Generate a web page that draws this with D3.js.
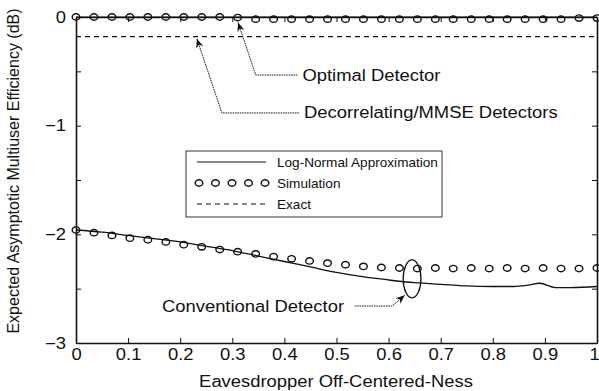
<!DOCTYPE html>
<html><head><meta charset="utf-8">
<script src="https://cdn.jsdelivr.net/npm/d3@7"></script>
<style>body{margin:0;background:#fff}svg{display:block}</style>
</head><body><svg id="c" width="599" height="391"></svg>
<script>
// ---------- data ----------
const simX = [0, 0.0345, 0.069, 0.1034, 0.1379, 0.1724, 0.2069, 0.2414, 0.2759, 0.3103,
  0.3448, 0.3793, 0.4138, 0.4483, 0.4828, 0.5172, 0.5517, 0.5862, 0.6207, 0.6552,
  0.6897, 0.7241, 0.7586, 0.7931, 0.8276, 0.8621, 0.8966, 0.931, 0.9655, 1];
const optimalSim = [0, 0, 0, 0, 0, 0, 0, 0, 0, -0.005,
  -0.02, -0.02, -0.02, -0.02, -0.02, -0.02, -0.02, -0.02, -0.02, -0.02,
  -0.02, -0.02, -0.02, -0.02, -0.02, -0.02, -0.02, -0.02, -0.01, -0.01];
const conventionalSim = [-1.96, -1.985, -2.01, -2.035, -2.05, -2.07, -2.095, -2.115, -2.14, -2.16,
  -2.18, -2.205, -2.225, -2.245, -2.265, -2.28, -2.295, -2.305, -2.31, -2.315,
  -2.31, -2.315, -2.31, -2.315, -2.31, -2.315, -2.31, -2.315, -2.315, -2.31];
const lnX = [0, 0.05, 0.1, 0.15, 0.2, 0.25, 0.3, 0.35, 0.4, 0.45, 0.5, 0.55, 0.6, 0.65,
  0.7, 0.75, 0.8, 0.84, 0.865, 0.89, 0.92, 0.95, 1];
const conventionalLN = [-1.96, -1.98, -2.01, -2.04, -2.07, -2.11, -2.15, -2.2, -2.25, -2.3,
  -2.35, -2.39, -2.42, -2.445, -2.46, -2.475, -2.48, -2.48, -2.47, -2.45, -2.49, -2.49, -2.48];
const optimalLNX = [0, 1];
const optimalLN = [0, 0];
const decorrExactX = [0, 1];
const decorrExact = [-0.18, -0.18];
const xTicks = [0, 0.1, 0.2, 0.3, 0.4, 0.5, 0.6, 0.7, 0.8, 0.9, 1];
const xTickLabels = ["0", "0.1", "0.2", "0.3", "0.4", "0.5", "0.6", "0.7", "0.8", "0.9", "1"];
const yTicks = [-3, -2.5, -2, -1.5, -1, -0.5, 0];
const yTickLabels = ["\u22123", "", "\u22122", "", "\u22121", "", "0"];
const legendLabels = ["Log-Normal Approximation", "Simulation", "Exact"];
const xLabel = "Eavesdropper Off-Centered-Ness";
const yLabel = "Expected Asymptotic Multiuser Efficiency (dB)";
// annotations (data coordinates)
const annOptimal = {text: "Optimal Detector", pts: [[0.425, -0.534], [0.345, -0.534], [0.311, -0.05]]};
const annDecorr = {text: "Decorrelating/MMSE Detectors", pts: [[0.428, -0.883], [0.28, -0.883], [0.232, -0.2]]};
const annConv = {text: "Conventional Detector", textX: 0.165, pts: [[0.535, -2.66], [0.607, -2.66], [0.631, -2.56]]};
const ellipseConv = {cx: 0.645, cy: -2.41, rx: 0.017, ry: 0.175};

// ---------- setup ----------
const FONT = "'Liberation Sans', Arial, Helvetica, sans-serif";
const STRETCH = 1.15;
const svg = d3.select("#c");
svg.append("rect").attr("width", 599).attr("height", 391).attr("fill", "#fff");
const x = d3.scaleLinear().domain([0, 1]).range([76, 597]);
const y = d3.scaleLinear().domain([-3, 0]).range([343, 17]);
const ink = "#111";

function stretch(sel, f) {
  const k = f || STRETCH;
  sel.each(function () {
    const L = this.getComputedTextLength();
    if (L > 0) {
      this.setAttribute("textLength", L * k);
      this.setAttribute("lengthAdjust", "spacingAndGlyphs");
    }
  });
}

svg.append("defs").append("marker")
  .attr("id", "arr").attr("viewBox", "0 0 10 10").attr("refX", 10).attr("refY", 5)
  .attr("markerWidth", 9).attr("markerHeight", 9).attr("markerUnits", "userSpaceOnUse")
  .attr("orient", "auto")
  .append("path").attr("d", "M0,1 L10,5 L0,9 L3,5 z").attr("fill", ink);

// ---------- series ----------
const line = d3.line().x(d => x(d[0])).y(d => y(d[1]));
const g = svg.append("g");

g.append("path").datum(optimalLNX.map((v, i) => [v, optimalLN[i]]))
  .attr("d", line).attr("fill", "none").attr("stroke", ink).attr("stroke-width", 1.2);
g.append("path").datum(decorrExactX.map((v, i) => [v, decorrExact[i]]))
  .attr("d", line).attr("fill", "none").attr("stroke", ink).attr("stroke-width", 1.2)
  .attr("stroke-dasharray", "5,4");
g.append("path").datum(lnX.map((v, i) => [v, conventionalLN[i]]))
  .attr("d", d3.line().x(d => x(d[0])).y(d => y(d[1])).curve(d3.curveMonotoneX))
  .attr("fill", "none").attr("stroke", ink).attr("stroke-width", 1.3);

function markers(vals) {
  g.append("g").selectAll("ellipse").data(simX.map((v, i) => [v, vals[i]])).join("ellipse")
    .attr("cx", d => x(d[0])).attr("cy", d => y(d[1]))
    .attr("rx", 3.8).attr("ry", 3.2)
    .attr("fill", "none").attr("stroke", ink).attr("stroke-width", 1.4);
}
markers(optimalSim);
markers(conventionalSim);

// ---------- axes ----------
function styleAxis(ax) {
  ax.attr("font-family", FONT).attr("font-size", 16);
  ax.selectAll("path.domain").attr("stroke", ink).attr("stroke-width", 1.6);
  ax.selectAll(".tick line").attr("stroke", ink).attr("stroke-width", 1);
  ax.selectAll("text").attr("fill", ink);
}
const axB = svg.append("g").attr("transform", "translate(0,343)")
  .call(d3.axisBottom(x).tickValues(xTicks).tickSizeInner(-5).tickSizeOuter(0).tickPadding(6)
    .tickFormat((d, i) => xTickLabels[i]));
styleAxis(axB); stretch(axB.selectAll("text"));
axB.selectAll(".tick").filter(d => d === 1).select("text").attr("dx", -3);
const axT = svg.append("g").attr("transform", "translate(0,17)")
  .call(d3.axisTop(x).tickValues(xTicks).tickSizeInner(-5).tickSizeOuter(0).tickFormat(() => ""));
styleAxis(axT);
const axL = svg.append("g").attr("transform", "translate(76,0)")
  .call(d3.axisLeft(y).tickValues(yTicks).tickSizeInner(-5).tickSizeOuter(0).tickPadding(10)
    .tickFormat((d, i) => yTickLabels[i]));
styleAxis(axL); stretch(axL.selectAll("text"));
const axR = svg.append("g").attr("transform", "translate(597,0)")
  .call(d3.axisRight(y).tickValues(yTicks).tickSizeInner(-5).tickSizeOuter(0).tickFormat(() => ""));
styleAxis(axR);

// axis labels
const xl = svg.append("text").attr("x", 336).attr("y", 381).attr("text-anchor", "middle")
  .attr("dominant-baseline", "central")
  .attr("font-family", FONT).attr("font-size", 16).attr("fill", ink).text(xLabel);
stretch(xl);
svg.append("text").attr("transform", "translate(13,171) rotate(-90)").attr("text-anchor", "middle")
  .attr("dominant-baseline", "central")
  .attr("font-family", FONT).attr("font-size", 16).attr("fill", ink).text(yLabel);

// ---------- legend ----------
const lg = svg.append("g");
lg.append("rect").attr("x", 186).attr("y", 151).attr("width", 256).attr("height", 66)
  .attr("fill", "#fff").attr("stroke", "#333").attr("stroke-width", 1);
const rowsY = [162, 183, 204];
lg.append("line").attr("x1", 197).attr("x2", 266).attr("y1", rowsY[0]).attr("y2", rowsY[0])
  .attr("stroke", ink).attr("stroke-width", 1.2);
lg.append("g").selectAll("ellipse").data([0, 1, 2, 3, 4]).join("ellipse")
  .attr("cx", d => 199 + d * 16.5).attr("cy", rowsY[1]).attr("rx", 3.8).attr("ry", 3.2)
  .attr("fill", "none").attr("stroke", ink).attr("stroke-width", 1.4);
lg.append("line").attr("x1", 197).attr("x2", 266).attr("y1", rowsY[2]).attr("y2", rowsY[2])
  .attr("stroke", ink).attr("stroke-width", 1.2).attr("stroke-dasharray", "5,4");
const lt = lg.selectAll("text.lt").data(legendLabels).join("text").attr("class", "lt")
  .attr("x", 277).attr("y", (d, i) => rowsY[i]).attr("dominant-baseline", "central")
  .attr("font-family", FONT).attr("font-size", 13.6).attr("fill", ink).text(d => d);

// ---------- annotations ----------
function annot(a, textX) {
  svg.append("path").datum(a.pts).attr("d", line).attr("fill", "none")
    .attr("stroke", "#222").attr("stroke-width", 1).attr("stroke-dasharray", "1.6,0.8")
    .attr("marker-end", "url(#arr)");
  const p0 = a.pts[0];
  const t = svg.append("text").attr("y", y(p0[1])).attr("dominant-baseline", "central")
    .attr("font-family", FONT).attr("font-size", 16).attr("fill", ink).text(a.text);
  if (textX === undefined) {
    t.attr("x", x(p0[0]) + 5);
  } else {
    t.attr("x", x(textX));
  }
  stretch(t);
}
annot(annOptimal);
annot(annDecorr);
annot(annConv, annConv.textX);
svg.append("ellipse").attr("cx", x(ellipseConv.cx)).attr("cy", y(ellipseConv.cy))
  .attr("rx", x(ellipseConv.rx) - x(0)).attr("ry", y(-ellipseConv.ry) - y(0))
  .attr("fill", "none").attr("stroke", ink).attr("stroke-width", 1.3);
</script></body></html>
